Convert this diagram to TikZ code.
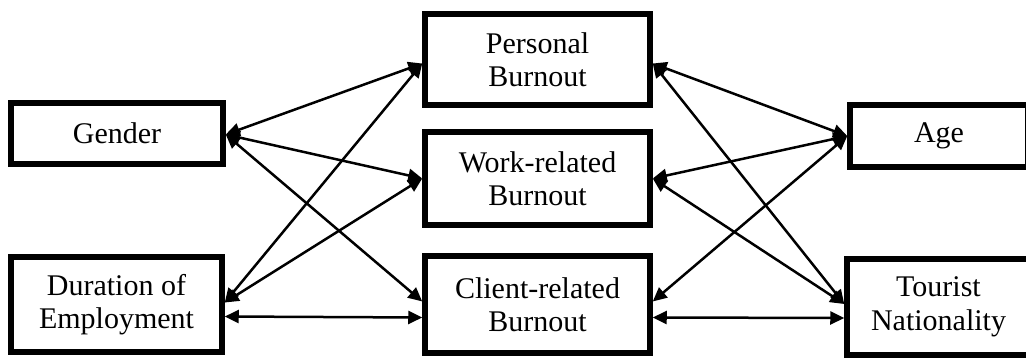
\documentclass[tikz,border=0pt]{standalone}
\usepackage{fontspec}
\setmainfont{Liberation Serif}
\usetikzlibrary{arrows.meta,calc}
\tikzset{
  box/.style={draw, line width=5.5pt, fill=white, align=center, inner sep=0pt,
    font=\fontsize{30}{33.5}\selectfont},
  link/.style={line width=2.5pt, {Triangle[length=14pt,width=13pt]}-{Triangle[length=14pt,width=13pt]}}
}
\begin{document}
\begin{tikzpicture}[x=1pt,y=-1pt]
\useasboundingbox (0,0) rectangle (1026,358);
\clip (0,0) rectangle (1026,358);
% boxes (centers from line centres)
\node[box, minimum width=212pt, minimum height=61pt] (gender) at (117,133.5) {Gender};
\node[box, minimum width=211pt, minimum height=95pt] (dur) at (116.5,304.5) {Duration of\\Employment};
\node[box, minimum width=225pt, minimum height=91pt] (pers) at (537.5,59.5) {Personal\\Burnout};
\node[box, minimum width=225pt, minimum height=97pt] (client) at (537.5,304.5) {Client-related\\Burnout};
\node[box, minimum width=225pt, minimum height=93pt] (work) at (537.5,178.5) {Work-related\\Burnout};
\node[box, minimum width=178pt, minimum height=62pt] (age) at (939,136) {Age};
\node[box, minimum width=183pt, minimum height=96pt] (tour) at (938.5,307) {Tourist\\Nationality};
% left connectors
\draw[link] ($(gender.east)+(0,1)$) -- ($(pers.west)+(0,4)$);
\draw[link] ($(gender.east)+(0,1)$) -- (work.west);
\draw[link] ($(gender.east)+(0,1)$) -- ($(client.west)+(0,-3)$);
\draw[link] ($(dur.east)+(0,-2)$) -- ($(pers.west)+(0,4)$);
\draw[link] ($(dur.east)+(0,-2)$) -- (work.west);
\draw[link] ($(dur.east)+(0,12)$) -- ($(client.west)+(0,13)$);
% right connectors
\draw[link] ($(pers.east)+(0,4)$) -- (age.west);
\draw[link] (work.east) -- (age.west);
\draw[link] ($(client.east)+(0,-3)$) -- (age.west);
\draw[link] ($(pers.east)+(0,4)$) -- ($(tour.west)+(0,-3)$);
\draw[link] (work.east) -- ($(tour.west)+(0,-3)$);
\draw[link] ($(client.east)+(0,13)$) -- ($(tour.west)+(0,11)$);
\end{tikzpicture}
\end{document}
